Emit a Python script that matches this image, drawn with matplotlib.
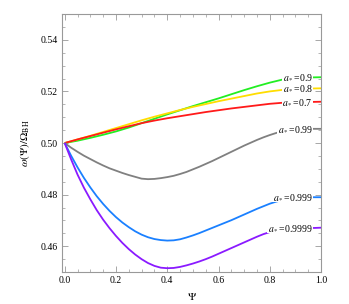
import matplotlib
matplotlib.use("Agg")
import matplotlib.pyplot as plt
from matplotlib.ticker import MultipleLocator

plt.rcParams['font.family'] = ['Liberation Serif', 'DejaVu Serif']
plt.rcParams['mathtext.fontset'] = 'stix'

psi_coarse = [0.0, 0.05, 0.1, 0.15, 0.2, 0.25, 0.3, 0.35, 0.4, 0.45, 0.5, 0.55, 0.6,
              0.65, 0.7, 0.75, 0.8, 0.85, 0.9, 0.95, 1.0]
psi_fine = [0.0, 0.025, 0.05, 0.075, 0.1, 0.125, 0.15, 0.175, 0.2, 0.225, 0.25, 0.275,
            0.3, 0.325, 0.35, 0.375, 0.4, 0.425, 0.45, 0.475, 0.5, 0.525, 0.55, 0.575,
            0.6, 0.625, 0.65, 0.675, 0.7, 0.725, 0.75, 0.775, 0.8, 0.825, 0.85, 0.875,
            0.9, 0.925, 0.95, 0.975, 1.0]

spins = ["0.9", "0.8", "0.7", "0.99", "0.999", "0.9999"]
colors = ["#22ee22", "#ffdd00", "#ff1a1a", "#808080", "#1a80ff", "#8a1aff"]

w_09 = [0.5, 0.5009, 0.5020, 0.5032, 0.5045, 0.5060, 0.5077, 0.5094, 0.5111, 0.5127,
        0.5143, 0.5158, 0.5173, 0.5189, 0.5205, 0.5220, 0.5234, 0.5246, 0.5252, 0.5254, 0.5255]
w_08 = [0.5, 0.5014, 0.5028, 0.5043, 0.5058, 0.5073, 0.5088, 0.5102, 0.5115, 0.5128,
        0.5140, 0.5151, 0.5162, 0.5172, 0.5182, 0.5192, 0.5200, 0.5206, 0.5210, 0.5211, 0.5212]
w_07 = [0.5, 0.5014, 0.5027, 0.5040, 0.5053, 0.5065, 0.5077, 0.5087, 0.5096, 0.5104,
        0.5112, 0.5120, 0.5127, 0.5134, 0.5140, 0.5146, 0.5152, 0.5156, 0.5158, 0.5159, 0.5160]
w_099 = [0.5000, 0.4982, 0.4966, 0.4951, 0.4938, 0.4925, 0.4913, 0.4902, 0.4893, 0.4884,
         0.4876, 0.4869, 0.4862, 0.4860, 0.4861, 0.4864, 0.4868, 0.4873, 0.4880, 0.4888,
         0.4898, 0.4908, 0.4919, 0.4930, 0.4942, 0.4954, 0.4966, 0.4978, 0.4990, 0.5001,
         0.5012, 0.5022, 0.5031, 0.5039, 0.5045, 0.5049, 0.5052, 0.5054, 0.5055, 0.5055, 0.5055]
w_0999 = [0.5000, 0.4951, 0.4906, 0.4865, 0.4828, 0.4794, 0.4764, 0.4737, 0.4713, 0.4692,
          0.4674, 0.4658, 0.4645, 0.4635, 0.4628, 0.4624, 0.4622, 0.4623, 0.4627, 0.4634,
          0.4642, 0.4651, 0.4661, 0.4671, 0.4681, 0.4691, 0.4701, 0.4712, 0.4723, 0.4734,
          0.4745, 0.4755, 0.4765, 0.4773, 0.4779, 0.4784, 0.4787, 0.4789, 0.4790, 0.4790, 0.4790]
w_09999 = [0.5000, 0.4937, 0.4878, 0.4827, 0.4782, 0.4740, 0.4703, 0.4670, 0.4640, 0.4613,
           0.4589, 0.4568, 0.4550, 0.4535, 0.4524, 0.4517, 0.4515, 0.4516, 0.4520, 0.4526,
           0.4533, 0.4541, 0.4550, 0.4560, 0.4571, 0.4582, 0.4593, 0.4604, 0.4615, 0.4626,
           0.4637, 0.4647, 0.4655, 0.4661, 0.4665, 0.4667, 0.4669, 0.4670, 0.4671, 0.4671, 0.4672]

series = [(psi_coarse, w_09), (psi_coarse, w_08), (psi_coarse, w_07),
          (psi_fine, w_099), (psi_fine, w_0999), (psi_fine, w_09999)]

fig = plt.figure(figsize=(3.49, 3.04), dpi=100)
ax = fig.add_axes([0.178, 0.105, 0.742, 0.849])

for (xs, s), c, lab in zip(series, colors, spins):
    ax.plot(xs, s, color=c, lw=1.3, solid_capstyle='butt', solid_joinstyle='round')
    ax.text(0.967, s[-2], r"$a_*$=" + lab, ha='right', va='center', fontsize=7,
            bbox=dict(boxstyle='square,pad=0.05', fc='white', ec='none'), zorder=5)

ax.set_xlim(-0.01, 1.0)
ax.set_ylim(0.45, 0.55)
ax.xaxis.set_major_locator(MultipleLocator(0.2))
ax.xaxis.set_minor_locator(MultipleLocator(0.05))
ax.yaxis.set_major_locator(MultipleLocator(0.02))
ax.yaxis.set_minor_locator(MultipleLocator(0.005))
ax.tick_params(which='both', direction='in', top=True, right=True, color='#999999',
               labelsize=7, pad=3)
ax.tick_params(which='major', length=4, width=0.6)
ax.tick_params(which='minor', length=2, width=0.5)
ax.set_xticks([0.0, 0.2, 0.4, 0.6, 0.8, 1.0])
ax.set_xticklabels(["0.0", "0.2", "0.4", "0.6", "0.8", "1.0"])
ax.set_yticks([0.46, 0.48, 0.50, 0.52, 0.54])
ax.set_yticklabels(["0.46", "0.48", "0.50", "0.52", "0.54"])
for sp in ax.spines.values():
    sp.set_color('#999999')
    sp.set_linewidth(0.8)

ax.set_xlabel(r"$\Psi$", fontsize=8, labelpad=4)
ax.set_ylabel(r"$\omega(\Psi)/\Omega_{\rm BH}$", fontsize=8, labelpad=6)

fig.savefig("out.png", dpi=100)
